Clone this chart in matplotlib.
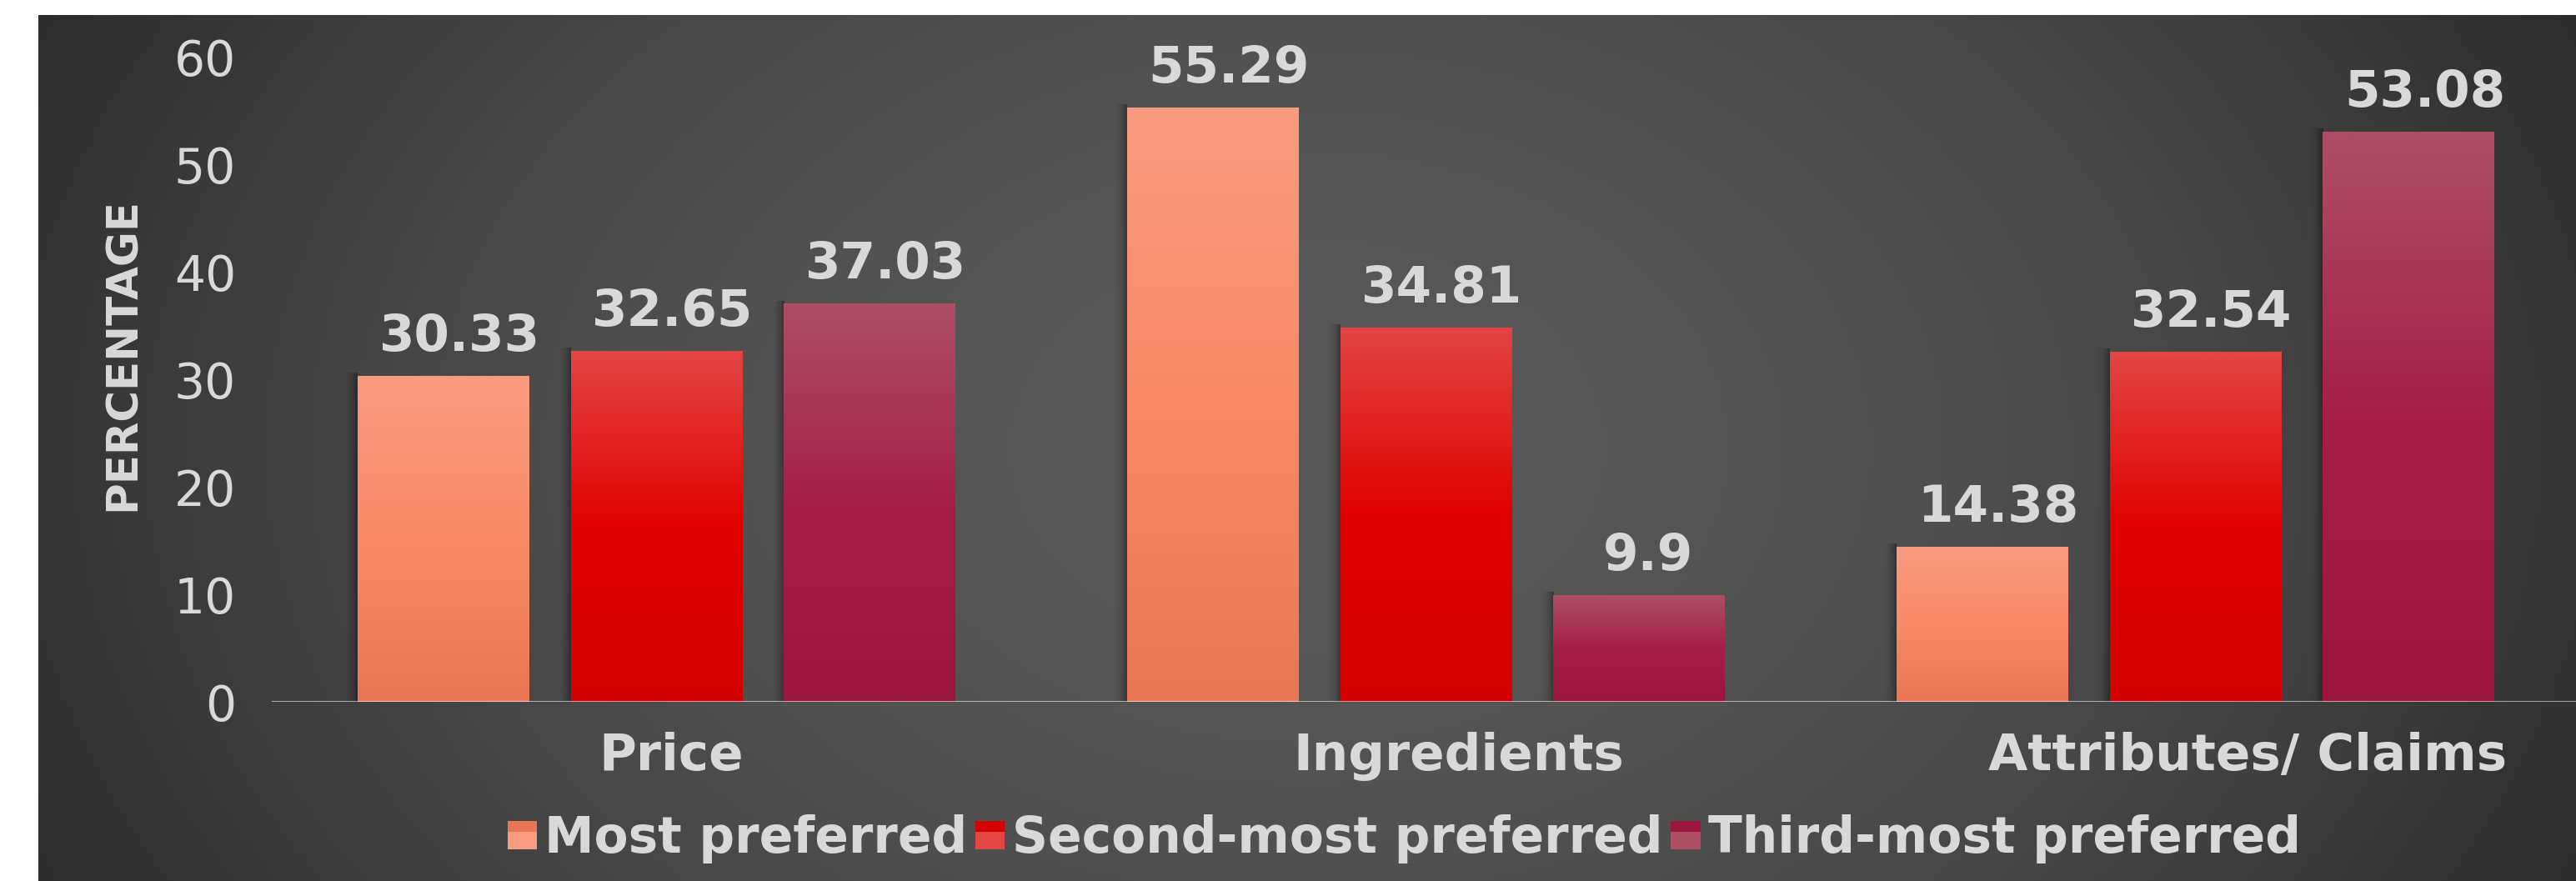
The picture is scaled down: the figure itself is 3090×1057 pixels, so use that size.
import numpy as np
import matplotlib
matplotlib.use("Agg")
import matplotlib.pyplot as plt
from matplotlib.patches import Rectangle
from matplotlib.legend_handler import HandlerBase
from matplotlib.colors import to_rgb
from matplotlib.transforms import Affine2D, ScaledTranslation

categories = ["Price", "Ingredients", "Attributes/ Claims"]
series_names = ["Most preferred", "Second-most preferred", "Third-most preferred"]
most_preferred = [30.33, 55.29, 14.38]
second_preferred = [32.65, 34.81, 32.54]
third_preferred = [37.03, 9.9, 53.08]
yticks = [0, 10, 20, 30, 40, 50, 60]

# top / middle / bottom colours of each bar gradient
grads = [
    ["#f89b80", "#fb8a68", "#e97654"],
    ["#e34444", "#e00000", "#d40000"],
    ["#ad4e66", "#a41f48", "#9a163f"],
]
txt = "#d9d9d9"


def grad_img(cols, n=64):
    t = np.linspace(0, 1, n)[:, None]
    c0, c1, c2 = [np.array(to_rgb(c)) for c in cols]
    top = c0 + (c1 - c0) * np.clip(t / 0.5, 0, 1)
    bot = c1 + (c2 - c1) * np.clip((t - 0.5) / 0.5, 0, 1)
    img = np.where(t < 0.5, top, bot)
    return img[:, None, :]


class TwoToneHandler(HandlerBase):
    def __init__(self, cols):
        super().__init__()
        self.cols = cols

    def create_artists(self, legend, orig, xd, yd, w, h, fs, trans):
        r1 = Rectangle((-xd, -yd + h * 0.6), w, h * 0.4, facecolor=self.cols[2],
                       edgecolor="none", transform=trans)
        r2 = Rectangle((-xd, -yd), w, h * 0.6, facecolor=self.cols[0],
                       edgecolor="none", transform=trans)
        return [r1, r2]


fig = plt.figure(figsize=(30.9, 10.57), dpi=100, facecolor="white")

# dark radial background panel
bg = fig.add_axes([46 / 3090, 0, 1 - 46 / 3090, 1 - 18 / 1057])
gx, gy = np.meshgrid(np.linspace(0, 1, 600), np.linspace(0, 1, 300))
d = np.sqrt(((gx - 0.5) / 0.58) ** 2 + ((gy - 0.5) / 1.2) ** 2)
val = (0x58 - (0x58 - 0x28) * np.clip(d, 0, 1) ** 2) / 255.0
bg.imshow(np.dstack([val, val, val]), extent=[0, 1, 0, 1], aspect="auto")
bg.set_axis_off()

ax = fig.add_axes([326 / 3090, 215 / 1057, 2769 / 3090, 773 / 1057])
ax.patch.set_alpha(0)

x = np.arange(len(categories))
width = 0.223
step = 0.277
data = [most_preferred, second_preferred, third_preferred]
handles = []
value_texts = []
lift = ScaledTranslation(0, 22 / 72, fig.dpi_scale_trans)
for i, vals in enumerate(data):
    bars = ax.bar(x + (i - 1) * step, vals, width, color=grads[i][1], zorder=2,
                  label=series_names[i])
    handles.append(bars)
    for b, v in zip(bars, vals):
        bx, bw = b.get_x(), b.get_width()
        ax.imshow(grad_img(grads[i]), extent=[bx, bx + bw, 0, v], aspect="auto",
                  zorder=3, interpolation="bilinear")
        # soft shadow on the left side
        sh = np.zeros((1, 32, 4))
        sh[0, :, 3] = np.linspace(0, 0.35, 32) ** 2 * 3
        ax.imshow(sh, extent=[bx - 0.018, bx, 0, v + 0.3], aspect="auto", zorder=1)
        t = ax.text(bx + bw / 2, v, str(v), transform=ax.transData + lift,
                    ha="center", va="baseline", fontsize=44, fontweight="bold",
                    color=txt, zorder=4)
        value_texts.append(t)

ax.set_xlim(-0.5, 2.5)
ax.set_ylim(0, 60)
ax.set_yticks(yticks)
ax.set_xticks(x)
ax.set_xticklabels(categories, fontsize=44, fontweight="bold", color=txt)
ax.tick_params(axis="y", labelsize=42, labelcolor=txt, length=0, pad=31)
ax.tick_params(axis="x", length=0, pad=26)
for s in ax.spines.values():
    s.set_visible(False)
ax.axhline(0, color="white", alpha=0.55, lw=1.5, zorder=5)

ax.set_ylabel("PERCENTAGE", fontsize=37, fontweight="bold", color=txt)
ax.yaxis.set_label_coords(-0.0553, 0.54)

fig.legend(handles, series_names, loc="center", bbox_to_anchor=(0.545, 0.048),
           ncol=3, frameon=False, prop={"size": 43, "weight": "bold"},
           labelcolor=txt, handlelength=0.6, handleheight=0.5,
           handletextpad=0.15, columnspacing=0.15,
           handler_map={h: TwoToneHandler(grads[i]) for i, h in enumerate(handles)})

# labels in the original sit a little right of their anchor
fig.canvas.draw()
for t in value_texts + list(ax.get_xticklabels()):
    w = t.get_window_extent().width
    t.set_transform(t.get_transform() + Affine2D().translate(0.1 * w, 0))

fig.savefig("out.png", dpi=100, facecolor="white")
